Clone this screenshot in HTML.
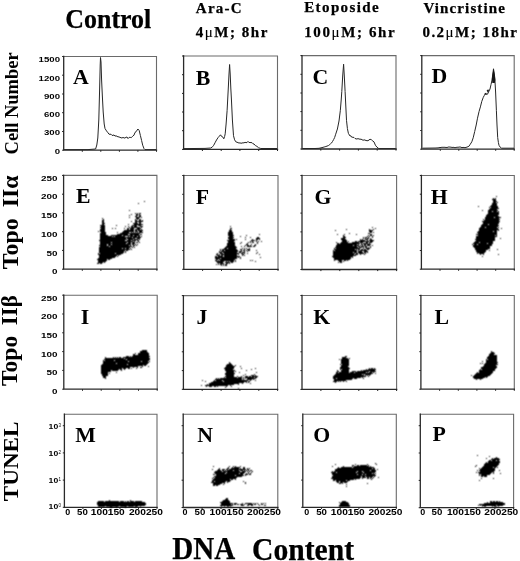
<!DOCTYPE html>
<html><head><meta charset="utf-8"><title>Figure</title>
<style>html,body{margin:0;padding:0;background:#fff;width:520px;height:561px;overflow:hidden;position:relative}
text{fill:#000}</style></head>
<body>
<svg width="520" height="561" viewBox="0 0 520 561" style="position:absolute;left:0;top:0;will-change:transform"><defs><filter id="sf" x="-5%" y="-5%" width="110%" height="110%"><feConvolveMatrix order="3" kernelMatrix="1 2 1 2 5 2 1 2 1"/></filter></defs><g fill="none" stroke-linecap="square"><path d="M63.7 56.5H156.5V150.2" stroke="#6a6a6a" stroke-width="1.1"/><path d="M63.7 56.5V150.2H156.5" stroke="#2a2a2a" stroke-width="1.3"/><path d="M183.6 56.0H277.5V149.4" stroke="#6a6a6a" stroke-width="1.1"/><path d="M183.6 56.0V149.4H277.5" stroke="#2a2a2a" stroke-width="1.3"/><path d="M302.0 55.6H396.0V149.0" stroke="#6a6a6a" stroke-width="1.1"/><path d="M302.0 55.6V149.0H396.0" stroke="#2a2a2a" stroke-width="1.3"/><path d="M421.8 55.6H514.2V149.2" stroke="#6a6a6a" stroke-width="1.1"/><path d="M421.8 55.6V149.2H514.2" stroke="#2a2a2a" stroke-width="1.3"/><path d="M63.6 175.4H156.9V269.2" stroke="#6a6a6a" stroke-width="1.1"/><path d="M63.6 175.4V269.2H156.9" stroke="#2a2a2a" stroke-width="1.3"/><path d="M183.8 175.5H278.0V269.3" stroke="#6a6a6a" stroke-width="1.1"/><path d="M183.8 175.5V269.3H278.0" stroke="#2a2a2a" stroke-width="1.3"/><path d="M302.0 175.5H396.6V269.5" stroke="#6a6a6a" stroke-width="1.1"/><path d="M302.0 175.5V269.5H396.6" stroke="#2a2a2a" stroke-width="1.3"/><path d="M421.4 175.5H514.3V269.2" stroke="#6a6a6a" stroke-width="1.1"/><path d="M421.4 175.5V269.2H514.3" stroke="#2a2a2a" stroke-width="1.3"/><path d="M63.8 295.2H157.2V389.2" stroke="#6a6a6a" stroke-width="1.1"/><path d="M63.8 295.2V389.2H157.2" stroke="#2a2a2a" stroke-width="1.3"/><path d="M183.4 295.6H277.6V389.3" stroke="#6a6a6a" stroke-width="1.1"/><path d="M183.4 295.6V389.3H277.6" stroke="#2a2a2a" stroke-width="1.3"/><path d="M302.0 295.5H396.6V389.4" stroke="#6a6a6a" stroke-width="1.1"/><path d="M302.0 295.5V389.4H396.6" stroke="#2a2a2a" stroke-width="1.3"/><path d="M420.9 295.5H514.3V389.2" stroke="#6a6a6a" stroke-width="1.1"/><path d="M420.9 295.5V389.2H514.3" stroke="#2a2a2a" stroke-width="1.3"/><path d="M64.4 414.2H157.0V507.3" stroke="#6a6a6a" stroke-width="1.1"/><path d="M64.4 414.2V507.3H157.0" stroke="#2a2a2a" stroke-width="1.3"/><path d="M183.2 414.2H277.8V507.5" stroke="#6a6a6a" stroke-width="1.1"/><path d="M183.2 414.2V507.5H277.8" stroke="#2a2a2a" stroke-width="1.3"/><path d="M302.8 414.2H396.3V507.3" stroke="#6a6a6a" stroke-width="1.1"/><path d="M302.8 414.2V507.3H396.3" stroke="#2a2a2a" stroke-width="1.3"/><path d="M420.3 414.2H513.6V507.7" stroke="#6a6a6a" stroke-width="1.1"/><path d="M420.3 414.2V507.7H513.6" stroke="#2a2a2a" stroke-width="1.3"/></g><path d="M82.3 150.2v1.6M100.8 150.2v1.6M119.4 150.2v1.6M137.9 150.2v1.6M156.5 150.2v1.6M63.7 150.2h-1.6M63.7 131.5h-1.6M63.7 112.7h-1.6M63.7 94.0h-1.6M63.7 75.2h-1.6M63.7 56.5h-1.6M202.4 149.4v1.6M221.2 149.4v1.6M239.9 149.4v1.6M258.7 149.4v1.6M277.5 149.4v1.6M183.6 149.4h-1.6M183.6 130.7h-1.6M183.6 112.0h-1.6M183.6 93.4h-1.6M183.6 74.7h-1.6M183.6 56.0h-1.6M320.8 149.0v1.6M339.6 149.0v1.6M358.4 149.0v1.6M377.2 149.0v1.6M396.0 149.0v1.6M302.0 149.0h-1.6M302.0 130.3h-1.6M302.0 111.6h-1.6M302.0 93.0h-1.6M302.0 74.3h-1.6M302.0 55.6h-1.6M440.3 149.2v1.6M458.8 149.2v1.6M477.2 149.2v1.6M495.7 149.2v1.6M514.2 149.2v1.6M421.8 149.2h-1.6M421.8 130.5h-1.6M421.8 111.8h-1.6M421.8 93.0h-1.6M421.8 74.3h-1.6M421.8 55.6h-1.6M82.3 269.2v1.6M100.9 269.2v1.6M119.6 269.2v1.6M138.2 269.2v1.6M156.9 269.2v1.6M63.6 269.2h-1.6M63.6 250.4h-1.6M63.6 231.7h-1.6M63.6 212.9h-1.6M63.6 194.2h-1.6M63.6 175.4h-1.6M202.6 269.3v1.6M221.5 269.3v1.6M240.3 269.3v1.6M259.2 269.3v1.6M278.0 269.3v1.6M183.8 269.3h-1.6M183.8 250.5h-1.6M183.8 231.8h-1.6M183.8 213.0h-1.6M183.8 194.3h-1.6M183.8 175.5h-1.6M320.9 269.5v1.6M339.8 269.5v1.6M358.8 269.5v1.6M377.7 269.5v1.6M396.6 269.5v1.6M302.0 269.5h-1.6M302.0 250.7h-1.6M302.0 231.9h-1.6M302.0 213.1h-1.6M302.0 194.3h-1.6M302.0 175.5h-1.6M440.0 269.2v1.6M458.6 269.2v1.6M477.1 269.2v1.6M495.7 269.2v1.6M514.3 269.2v1.6M421.4 269.2h-1.6M421.4 250.5h-1.6M421.4 231.7h-1.6M421.4 213.0h-1.6M421.4 194.2h-1.6M421.4 175.5h-1.6M82.5 389.2v1.6M101.2 389.2v1.6M119.8 389.2v1.6M138.5 389.2v1.6M157.2 389.2v1.6M63.8 389.2h-1.6M63.8 370.4h-1.6M63.8 351.6h-1.6M63.8 332.8h-1.6M63.8 314.0h-1.6M63.8 295.2h-1.6M202.2 389.3v1.6M221.1 389.3v1.6M239.9 389.3v1.6M258.8 389.3v1.6M277.6 389.3v1.6M183.4 389.3h-1.6M183.4 370.6h-1.6M183.4 351.8h-1.6M183.4 333.1h-1.6M183.4 314.3h-1.6M183.4 295.6h-1.6M320.9 389.4v1.6M339.8 389.4v1.6M358.8 389.4v1.6M377.7 389.4v1.6M396.6 389.4v1.6M302.0 389.4h-1.6M302.0 370.6h-1.6M302.0 351.8h-1.6M302.0 333.1h-1.6M302.0 314.3h-1.6M302.0 295.5h-1.6M439.6 389.2v1.6M458.3 389.2v1.6M476.9 389.2v1.6M495.6 389.2v1.6M514.3 389.2v1.6M420.9 389.2h-1.6M420.9 370.5h-1.6M420.9 351.7h-1.6M420.9 333.0h-1.6M420.9 314.2h-1.6M420.9 295.5h-1.6M82.9 507.3v1.6M101.4 507.3v1.6M120.0 507.3v1.6M138.5 507.3v1.6M157.0 507.3v1.6M64.4 507.3h-1.6M64.4 480.1h-1.6M64.4 452.9h-1.6M64.4 425.7h-1.6M202.1 507.5v1.6M221.0 507.5v1.6M240.0 507.5v1.6M258.9 507.5v1.6M277.8 507.5v1.6M183.2 507.5h-1.6M183.2 480.2h-1.6M183.2 453.0h-1.6M183.2 425.7h-1.6M321.5 507.3v1.6M340.2 507.3v1.6M358.9 507.3v1.6M377.6 507.3v1.6M396.3 507.3v1.6M302.8 507.3h-1.6M302.8 480.1h-1.6M302.8 452.9h-1.6M302.8 425.7h-1.6M439.0 507.7v1.6M457.6 507.7v1.6M476.3 507.7v1.6M494.9 507.7v1.6M513.6 507.7v1.6M420.3 507.7h-1.6M420.3 480.4h-1.6M420.3 453.0h-1.6M420.3 425.7h-1.6" stroke="#222" stroke-width="1" fill="none"/><path d="M64.0 149.6 L88.0 149.6 L95.6 149.0 L96.8 145.0 L97.8 138.0 L98.8 120.0 L99.6 90.0 L100.2 65.0 L100.5 57.5 L101.0 62.0 L101.6 80.0 L102.3 95.0 L103.2 112.0 L104.2 124.0 L105.0 128.5 L106.5 130.9 L108.0 132.8 L109.0 134.2 L110.0 134.3 L111.0 134.2 L112.0 135.4 L113.0 135.4 L114.0 134.9 L115.0 136.2 L116.0 135.7 L117.0 136.4 L118.0 136.8 L119.0 136.9 L120.0 137.4 L121.0 137.7 L122.0 138.1 L123.0 137.3 L124.0 138.0 L125.0 138.0 L126.0 137.3 L127.0 137.0 L128.0 138.6 L129.1 137.4 L130.2 137.3 L131.1 137.8 L132.0 136.9 L133.0 135.8 L134.0 135.2 L135.0 132.4 L136.0 131.8 L137.9 129.0 L139.2 130.5 L140.4 135.5 L141.6 140.5 L142.7 145.2 L144.0 148.6 L145.0 149.6 L156.0 149.6" fill="none" stroke="#262626" stroke-width="1" stroke-linejoin="round"/><path d="M184.0 148.6 L205.0 148.4 L210.8 148.0 L212.5 146.8 L213.7 145.3 L215.0 142.8 L216.5 140.0 L218.0 137.7 L219.4 136.1 L220.5 134.8 L221.3 136.2 L222.4 136.6 L223.8 138.8 L224.6 136.5 L225.2 133.8 L226.1 124.0 L227.1 110.7 L228.2 90.0 L229.0 74.0 L229.6 64.5 L230.2 74.0 L230.8 88.0 L231.5 101.0 L232.4 120.0 L233.5 135.7 L234.6 139.8 L235.8 141.8 L238.0 142.6 L239.0 143.1 L240.0 142.8 L241.0 143.3 L242.0 143.0 L243.0 142.8 L244.0 142.9 L245.0 142.3 L246.0 142.6 L247.0 142.6 L248.0 141.4 L249.0 142.6 L250.0 142.4 L251.0 142.7 L252.0 142.6 L253.0 143.8 L254.0 144.0 L255.5 145.7 L256.9 146.3 L258.5 147.7 L260.8 148.5 L277.0 148.5" fill="none" stroke="#262626" stroke-width="1" stroke-linejoin="round"/><path d="M302.5 148.5 L315.0 148.5 L319.0 148.3 L322.0 147.6 L324.9 146.8 L325.9 146.5 L327.0 146.1 L328.4 145.6 L329.7 144.7 L330.6 143.6 L331.5 143.0 L332.6 141.4 L333.6 139.6 L334.6 137.6 L335.5 134.8 L337.4 129.0 L339.0 121.0 L340.3 110.7 L341.2 100.0 L341.8 91.5 L342.7 76.0 L343.6 64.2 L344.3 76.0 L345.1 91.5 L345.8 106.0 L346.5 120.3 L347.4 128.5 L348.4 133.4 L350.0 136.0 L350.9 135.8 L351.8 137.3 L352.9 137.2 L354.0 137.5 L355.0 138.5 L356.0 138.8 L357.0 139.1 L358.0 138.5 L359.0 139.1 L360.0 139.1 L361.0 139.3 L362.0 139.5 L363.0 140.4 L364.0 139.8 L365.0 140.1 L366.0 140.5 L367.0 140.7 L368.0 140.7 L369.0 140.0 L370.0 139.2 L371.5 139.8 L372.8 141.0 L374.0 141.9 L375.4 145.2 L376.8 147.0 L378.8 148.6 L395.5 148.6" fill="none" stroke="#262626" stroke-width="1" stroke-linejoin="round"/><path d="M422.5 148.2 L436.0 148.0 L437.0 147.9 L438.0 147.9 L439.0 147.7 L440.0 147.5 L441.0 147.5 L442.0 147.2 L443.0 147.4 L444.0 147.2 L445.0 147.4 L446.0 147.4 L447.0 147.5 L448.0 147.2 L449.0 146.9 L450.0 147.2 L451.0 147.1 L452.0 147.5 L453.0 147.3 L454.0 147.4 L455.0 147.8 L456.0 147.4 L457.0 147.3 L458.0 147.2 L459.0 147.2 L460.0 146.9 L461.0 147.3 L462.0 147.6 L463.0 147.4 L464.0 147.5 L465.0 147.7 L466.0 147.4 L467.0 147.1 L468.9 146.3 L470.3 144.2 L471.8 141.8 L473.2 137.8 L474.7 131.5 L476.2 125.0 L477.5 118.2 L479.0 111.7 L480.4 106.9 L481.8 101.3 L483.3 97.3 L484.4 95.3 L485.6 93.0 L486.6 94.5 L487.5 94.2 L488.7 91.7 L490.0 89.0 L491.0 84.6 L492.0 80.0 L492.8 74.0 L493.5 68.8 L494.3 74.0 L494.8 78.0 L495.6 92.0 L496.4 110.7 L497.0 125.0 L497.7 137.6 L498.4 142.5 L499.0 145.3 L500.2 147.2 L501.6 148.2 L514.0 148.2" fill="none" stroke="#262626" stroke-width="1" stroke-linejoin="round"/><path d="M493.5 68.6 L494.6 74 L495.3 80 L494.8 83 L492.3 83 L491.9 79 L492.6 74Z" fill="#151515"/><path d="M486.6 90.5l1.6 -1.2l1 1.6l-1.4 1.6zM484.6 93.6l1.4 -0.8l0.8 1.5l-1.4 0.8z" fill="#222"/><path filter="url(#sf)" fill="#000" d="M496 196h1v1h-1zM493 198h1v1h-1zM495 198h1v1h-1zM492 199h4v1h-4zM493 200h3v1h-3zM144 201h1v1h-1zM493 201h4v1h-4zM493 202h3v1h-3zM497 202h1v1h-1zM138 203h1v1h-1zM492 203h5v1h-5zM492 204h5v1h-5zM491 205h6v1h-6zM478 206h1v1h-1zM490 206h8v1h-8zM489 207h1v1h-1zM491 207h7v1h-7zM490 208h9v1h-9zM489 209h8v1h-8zM129 210h1v1h-1zM482 210h1v1h-1zM488 210h10v1h-10zM488 211h4v1h-4zM493 211h4v1h-4zM498 211h1v1h-1zM488 212h11v1h-11zM135 213h1v1h-1zM137 213h1v1h-1zM139 213h2v1h-2zM488 213h11v1h-11zM131 214h1v1h-1zM136 214h2v1h-2zM139 214h1v1h-1zM487 214h12v1h-12zM129 215h1v1h-1zM136 215h2v1h-2zM139 215h2v1h-2zM486 215h12v1h-12zM135 216h2v1h-2zM139 216h2v1h-2zM486 216h13v1h-13zM129 217h1v1h-1zM136 217h4v1h-4zM141 217h1v1h-1zM485 217h9v1h-9zM495 217h6v1h-6zM102 218h1v1h-1zM136 218h3v1h-3zM485 218h14v1h-14zM103 219h1v1h-1zM135 219h1v1h-1zM137 219h1v1h-1zM139 219h2v1h-2zM483 219h1v1h-1zM485 219h15v1h-15zM102 220h2v1h-2zM135 220h2v1h-2zM139 220h2v1h-2zM142 220h1v1h-1zM484 220h15v1h-15zM102 221h2v1h-2zM131 221h1v1h-1zM135 221h8v1h-8zM482 221h18v1h-18zM102 222h2v1h-2zM135 222h2v1h-2zM139 222h2v1h-2zM483 222h16v1h-16zM102 223h3v1h-3zM133 223h5v1h-5zM139 223h2v1h-2zM483 223h16v1h-16zM102 224h2v1h-2zM128 224h1v1h-1zM134 224h9v1h-9zM482 224h6v1h-6zM489 224h9v1h-9zM100 225h5v1h-5zM116 225h1v1h-1zM132 225h5v1h-5zM138 225h3v1h-3zM481 225h18v1h-18zM101 226h4v1h-4zM125 226h1v1h-1zM128 226h1v1h-1zM131 226h2v1h-2zM134 226h3v1h-3zM140 226h3v1h-3zM230 226h1v1h-1zM481 226h17v1h-17zM100 227h5v1h-5zM129 227h1v1h-1zM131 227h9v1h-9zM141 227h1v1h-1zM372 227h1v1h-1zM480 227h5v1h-5zM486 227h11v1h-11zM498 227h1v1h-1zM101 228h4v1h-4zM112 228h1v1h-1zM115 228h1v1h-1zM124 228h1v1h-1zM127 228h2v1h-2zM130 228h4v1h-4zM137 228h4v1h-4zM230 228h2v1h-2zM375 228h1v1h-1zM479 228h19v1h-19zM501 228h1v1h-1zM100 229h5v1h-5zM127 229h2v1h-2zM130 229h4v1h-4zM135 229h5v1h-5zM141 229h1v1h-1zM230 229h1v1h-1zM346 229h1v1h-1zM369 229h1v1h-1zM373 229h1v1h-1zM479 229h20v1h-20zM100 230h5v1h-5zM124 230h10v1h-10zM135 230h2v1h-2zM138 230h5v1h-5zM229 230h3v1h-3zM335 230h1v1h-1zM369 230h4v1h-4zM479 230h18v1h-18zM498 230h1v1h-1zM98 231h1v1h-1zM100 231h5v1h-5zM123 231h11v1h-11zM135 231h3v1h-3zM139 231h3v1h-3zM229 231h3v1h-3zM369 231h3v1h-3zM478 231h15v1h-15zM494 231h3v1h-3zM101 232h5v1h-5zM117 232h1v1h-1zM122 232h7v1h-7zM131 232h1v1h-1zM133 232h1v1h-1zM135 232h1v1h-1zM137 232h1v1h-1zM139 232h4v1h-4zM228 232h5v1h-5zM370 232h2v1h-2zM373 232h1v1h-1zM477 232h20v1h-20zM100 233h6v1h-6zM120 233h20v1h-20zM228 233h5v1h-5zM349 233h1v1h-1zM368 233h2v1h-2zM478 233h19v1h-19zM100 234h6v1h-6zM117 234h11v1h-11zM130 234h9v1h-9zM140 234h2v1h-2zM228 234h5v1h-5zM259 234h1v1h-1zM337 234h1v1h-1zM344 234h1v1h-1zM356 234h1v1h-1zM370 234h2v1h-2zM476 234h21v1h-21zM100 235h8v1h-8zM111 235h11v1h-11zM123 235h10v1h-10zM134 235h6v1h-6zM228 235h6v1h-6zM246 235h1v1h-1zM343 235h1v1h-1zM368 235h1v1h-1zM370 235h2v1h-2zM373 235h1v1h-1zM478 235h17v1h-17zM496 235h1v1h-1zM100 236h12v1h-12zM113 236h1v1h-1zM115 236h10v1h-10zM128 236h1v1h-1zM130 236h7v1h-7zM138 236h2v1h-2zM141 236h1v1h-1zM229 236h4v1h-4zM240 236h1v1h-1zM343 236h2v1h-2zM367 236h1v1h-1zM369 236h1v1h-1zM372 236h1v1h-1zM476 236h21v1h-21zM100 237h32v1h-32zM133 237h8v1h-8zM228 237h6v1h-6zM245 237h1v1h-1zM250 237h1v1h-1zM257 237h2v1h-2zM343 237h3v1h-3zM363 237h1v1h-1zM365 237h2v1h-2zM368 237h1v1h-1zM372 237h1v1h-1zM476 237h19v1h-19zM100 238h26v1h-26zM127 238h8v1h-8zM137 238h3v1h-3zM228 238h5v1h-5zM256 238h4v1h-4zM341 238h4v1h-4zM363 238h1v1h-1zM365 238h1v1h-1zM367 238h2v1h-2zM370 238h1v1h-1zM476 238h19v1h-19zM500 238h1v1h-1zM100 239h27v1h-27zM128 239h5v1h-5zM134 239h4v1h-4zM139 239h1v1h-1zM229 239h6v1h-6zM236 239h1v1h-1zM245 239h1v1h-1zM252 239h1v1h-1zM256 239h2v1h-2zM259 239h1v1h-1zM341 239h5v1h-5zM360 239h1v1h-1zM362 239h1v1h-1zM365 239h3v1h-3zM370 239h2v1h-2zM475 239h20v1h-20zM99 240h26v1h-26zM127 240h4v1h-4zM132 240h4v1h-4zM137 240h2v1h-2zM227 240h8v1h-8zM251 240h4v1h-4zM256 240h1v1h-1zM342 240h5v1h-5zM360 240h5v1h-5zM367 240h1v1h-1zM369 240h5v1h-5zM476 240h19v1h-19zM100 241h33v1h-33zM134 241h1v1h-1zM138 241h1v1h-1zM228 241h6v1h-6zM250 241h1v1h-1zM252 241h1v1h-1zM256 241h1v1h-1zM258 241h1v1h-1zM261 241h1v1h-1zM342 241h5v1h-5zM348 241h1v1h-1zM355 241h2v1h-2zM358 241h11v1h-11zM370 241h3v1h-3zM475 241h18v1h-18zM100 242h11v1h-11zM112 242h15v1h-15zM128 242h3v1h-3zM132 242h3v1h-3zM136 242h2v1h-2zM139 242h1v1h-1zM228 242h7v1h-7zM241 242h1v1h-1zM248 242h1v1h-1zM250 242h1v1h-1zM252 242h2v1h-2zM257 242h1v1h-1zM336 242h1v1h-1zM341 242h7v1h-7zM352 242h7v1h-7zM360 242h3v1h-3zM366 242h2v1h-2zM369 242h3v1h-3zM474 242h5v1h-5zM480 242h13v1h-13zM100 243h26v1h-26zM127 243h4v1h-4zM132 243h3v1h-3zM227 243h8v1h-8zM240 243h1v1h-1zM247 243h1v1h-1zM257 243h1v1h-1zM337 243h2v1h-2zM340 243h20v1h-20zM361 243h1v1h-1zM363 243h5v1h-5zM369 243h1v1h-1zM473 243h14v1h-14zM488 243h5v1h-5zM100 244h7v1h-7zM108 244h3v1h-3zM112 244h19v1h-19zM132 244h2v1h-2zM135 244h1v1h-1zM137 244h1v1h-1zM227 244h8v1h-8zM246 244h2v1h-2zM251 244h1v1h-1zM255 244h1v1h-1zM337 244h20v1h-20zM358 244h1v1h-1zM361 244h2v1h-2zM364 244h2v1h-2zM367 244h4v1h-4zM472 244h1v1h-1zM474 244h3v1h-3zM478 244h14v1h-14zM99 245h8v1h-8zM108 245h21v1h-21zM130 245h1v1h-1zM133 245h2v1h-2zM136 245h1v1h-1zM227 245h8v1h-8zM245 245h1v1h-1zM247 245h2v1h-2zM250 245h1v1h-1zM254 245h2v1h-2zM336 245h17v1h-17zM354 245h5v1h-5zM360 245h1v1h-1zM362 245h1v1h-1zM364 245h2v1h-2zM367 245h3v1h-3zM372 245h1v1h-1zM473 245h19v1h-19zM100 246h9v1h-9zM110 246h22v1h-22zM133 246h1v1h-1zM226 246h10v1h-10zM241 246h1v1h-1zM244 246h1v1h-1zM247 246h5v1h-5zM253 246h2v1h-2zM336 246h21v1h-21zM358 246h2v1h-2zM361 246h3v1h-3zM365 246h2v1h-2zM370 246h1v1h-1zM473 246h17v1h-17zM99 247h31v1h-31zM132 247h1v1h-1zM134 247h1v1h-1zM225 247h12v1h-12zM335 247h23v1h-23zM359 247h3v1h-3zM363 247h1v1h-1zM365 247h2v1h-2zM368 247h1v1h-1zM370 247h1v1h-1zM474 247h16v1h-16zM99 248h23v1h-23zM123 248h2v1h-2zM126 248h3v1h-3zM130 248h1v1h-1zM224 248h3v1h-3zM228 248h8v1h-8zM242 248h1v1h-1zM244 248h1v1h-1zM246 248h1v1h-1zM249 248h1v1h-1zM334 248h1v1h-1zM336 248h24v1h-24zM363 248h1v1h-1zM366 248h4v1h-4zM475 248h15v1h-15zM99 249h31v1h-31zM131 249h1v1h-1zM220 249h1v1h-1zM222 249h15v1h-15zM240 249h2v1h-2zM244 249h1v1h-1zM247 249h3v1h-3zM334 249h21v1h-21zM356 249h1v1h-1zM358 249h2v1h-2zM361 249h2v1h-2zM364 249h2v1h-2zM367 249h2v1h-2zM475 249h13v1h-13zM497 249h1v1h-1zM99 250h26v1h-26zM126 250h2v1h-2zM220 250h1v1h-1zM222 250h2v1h-2zM225 250h13v1h-13zM241 250h1v1h-1zM243 250h2v1h-2zM246 250h1v1h-1zM248 250h2v1h-2zM256 250h1v1h-1zM333 250h1v1h-1zM335 250h22v1h-22zM358 250h1v1h-1zM360 250h7v1h-7zM476 250h10v1h-10zM489 250h1v1h-1zM99 251h25v1h-25zM125 251h1v1h-1zM219 251h1v1h-1zM221 251h17v1h-17zM239 251h3v1h-3zM244 251h1v1h-1zM247 251h1v1h-1zM333 251h24v1h-24zM358 251h4v1h-4zM364 251h4v1h-4zM476 251h10v1h-10zM99 252h25v1h-25zM125 252h1v1h-1zM219 252h3v1h-3zM223 252h14v1h-14zM239 252h2v1h-2zM242 252h3v1h-3zM257 252h1v1h-1zM333 252h20v1h-20zM354 252h3v1h-3zM358 252h5v1h-5zM364 252h2v1h-2zM367 252h1v1h-1zM477 252h8v1h-8zM98 253h1v1h-1zM100 253h15v1h-15zM116 253h7v1h-7zM217 253h1v1h-1zM220 253h3v1h-3zM224 253h15v1h-15zM241 253h2v1h-2zM244 253h1v1h-1zM247 253h1v1h-1zM256 253h1v1h-1zM333 253h22v1h-22zM356 253h2v1h-2zM359 253h5v1h-5zM365 253h1v1h-1zM477 253h1v1h-1zM479 253h5v1h-5zM98 254h23v1h-23zM216 254h2v1h-2zM219 254h1v1h-1zM221 254h16v1h-16zM238 254h1v1h-1zM242 254h2v1h-2zM259 254h1v1h-1zM333 254h21v1h-21zM355 254h3v1h-3zM360 254h1v1h-1zM364 254h1v1h-1zM480 254h1v1h-1zM483 254h1v1h-1zM498 254h1v1h-1zM99 255h18v1h-18zM118 255h1v1h-1zM217 255h3v1h-3zM221 255h2v1h-2zM224 255h13v1h-13zM242 255h1v1h-1zM244 255h1v1h-1zM333 255h23v1h-23zM99 256h17v1h-17zM117 256h1v1h-1zM215 256h2v1h-2zM218 256h5v1h-5zM224 256h16v1h-16zM332 256h21v1h-21zM482 256h1v1h-1zM99 257h16v1h-16zM215 257h22v1h-22zM238 257h1v1h-1zM240 257h1v1h-1zM260 257h1v1h-1zM333 257h18v1h-18zM352 257h1v1h-1zM98 258h14v1h-14zM215 258h5v1h-5zM221 258h16v1h-16zM240 258h1v1h-1zM334 258h17v1h-17zM97 259h10v1h-10zM108 259h2v1h-2zM216 259h2v1h-2zM219 259h16v1h-16zM334 259h16v1h-16zM98 260h9v1h-9zM215 260h2v1h-2zM218 260h1v1h-1zM220 260h14v1h-14zM235 260h1v1h-1zM250 260h1v1h-1zM252 260h1v1h-1zM334 260h1v1h-1zM338 260h4v1h-4zM344 260h2v1h-2zM347 260h1v1h-1zM98 261h8v1h-8zM216 261h8v1h-8zM226 261h1v1h-1zM228 261h1v1h-1zM230 261h4v1h-4zM235 261h1v1h-1zM255 261h1v1h-1zM339 261h3v1h-3zM343 261h1v1h-1zM98 262h5v1h-5zM104 262h1v1h-1zM217 262h6v1h-6zM225 262h5v1h-5zM231 262h2v1h-2zM338 262h1v1h-1zM340 262h2v1h-2zM97 263h2v1h-2zM100 263h2v1h-2zM218 263h1v1h-1zM220 263h4v1h-4zM226 263h2v1h-2zM229 263h1v1h-1zM216 264h1v1h-1zM218 264h1v1h-1zM220 264h2v1h-2zM223 264h1v1h-1zM225 264h2v1h-2zM221 265h1v1h-1zM223 265h1v1h-1zM225 265h2v1h-2zM142 350h5v1h-5zM140 351h7v1h-7zM491 351h1v1h-1zM140 352h8v1h-8zM491 352h3v1h-3zM135 353h1v1h-1zM138 353h11v1h-11zM490 353h5v1h-5zM133 354h2v1h-2zM138 354h11v1h-11zM489 354h5v1h-5zM133 355h16v1h-16zM489 355h8v1h-8zM126 356h3v1h-3zM130 356h1v1h-1zM132 356h18v1h-18zM345 356h2v1h-2zM488 356h9v1h-9zM105 357h1v1h-1zM113 357h1v1h-1zM115 357h1v1h-1zM117 357h1v1h-1zM119 357h2v1h-2zM123 357h26v1h-26zM342 357h4v1h-4zM487 357h10v1h-10zM105 358h19v1h-19zM125 358h25v1h-25zM342 358h6v1h-6zM349 358h1v1h-1zM487 358h10v1h-10zM104 359h22v1h-22zM127 359h23v1h-23zM339 359h1v1h-1zM341 359h8v1h-8zM486 359h1v1h-1zM488 359h9v1h-9zM103 360h1v1h-1zM105 360h9v1h-9zM115 360h34v1h-34zM341 360h8v1h-8zM486 360h11v1h-11zM103 361h25v1h-25zM129 361h12v1h-12zM142 361h6v1h-6zM149 361h1v1h-1zM341 361h8v1h-8zM482 361h1v1h-1zM486 361h11v1h-11zM103 362h46v1h-46zM229 362h1v1h-1zM341 362h8v1h-8zM486 362h12v1h-12zM103 363h13v1h-13zM117 363h31v1h-31zM229 363h2v1h-2zM341 363h8v1h-8zM480 363h1v1h-1zM482 363h1v1h-1zM485 363h12v1h-12zM102 364h25v1h-25zM128 364h19v1h-19zM227 364h5v1h-5zM340 364h1v1h-1zM342 364h7v1h-7zM484 364h14v1h-14zM101 365h42v1h-42zM144 365h2v1h-2zM226 365h7v1h-7zM235 365h1v1h-1zM341 365h8v1h-8zM484 365h12v1h-12zM101 366h37v1h-37zM142 366h1v1h-1zM148 366h1v1h-1zM226 366h9v1h-9zM240 366h1v1h-1zM341 366h7v1h-7zM483 366h14v1h-14zM101 367h29v1h-29zM133 367h1v1h-1zM137 367h1v1h-1zM140 367h2v1h-2zM225 367h9v1h-9zM340 367h9v1h-9zM481 367h16v1h-16zM101 368h21v1h-21zM123 368h3v1h-3zM128 368h2v1h-2zM131 368h1v1h-1zM136 368h1v1h-1zM224 368h10v1h-10zM241 368h1v1h-1zM255 368h1v1h-1zM340 368h10v1h-10zM369 368h1v1h-1zM371 368h2v1h-2zM374 368h1v1h-1zM481 368h15v1h-15zM101 369h18v1h-18zM120 369h2v1h-2zM124 369h1v1h-1zM225 369h8v1h-8zM251 369h1v1h-1zM340 369h1v1h-1zM342 369h7v1h-7zM366 369h1v1h-1zM368 369h8v1h-8zM480 369h1v1h-1zM482 369h13v1h-13zM101 370h10v1h-10zM112 370h6v1h-6zM121 370h1v1h-1zM225 370h10v1h-10zM246 370h1v1h-1zM337 370h1v1h-1zM341 370h8v1h-8zM361 370h1v1h-1zM363 370h12v1h-12zM479 370h16v1h-16zM101 371h10v1h-10zM226 371h8v1h-8zM235 371h1v1h-1zM337 371h2v1h-2zM341 371h8v1h-8zM352 371h4v1h-4zM357 371h12v1h-12zM370 371h6v1h-6zM479 371h14v1h-14zM101 372h7v1h-7zM116 372h1v1h-1zM226 372h8v1h-8zM239 372h1v1h-1zM256 372h1v1h-1zM336 372h2v1h-2zM339 372h10v1h-10zM350 372h4v1h-4zM355 372h11v1h-11zM367 372h1v1h-1zM369 372h3v1h-3zM373 372h1v1h-1zM477 372h1v1h-1zM479 372h14v1h-14zM101 373h7v1h-7zM109 373h1v1h-1zM225 373h10v1h-10zM336 373h37v1h-37zM375 373h1v1h-1zM476 373h16v1h-16zM102 374h6v1h-6zM225 374h9v1h-9zM245 374h1v1h-1zM254 374h1v1h-1zM335 374h27v1h-27zM363 374h1v1h-1zM365 374h6v1h-6zM475 374h16v1h-16zM102 375h6v1h-6zM226 375h8v1h-8zM243 375h1v1h-1zM251 375h3v1h-3zM255 375h1v1h-1zM334 375h30v1h-30zM365 375h1v1h-1zM367 375h1v1h-1zM369 375h1v1h-1zM471 375h1v1h-1zM474 375h16v1h-16zM103 376h3v1h-3zM225 376h9v1h-9zM237 376h1v1h-1zM241 376h1v1h-1zM245 376h3v1h-3zM249 376h2v1h-2zM252 376h6v1h-6zM333 376h33v1h-33zM368 376h1v1h-1zM473 376h15v1h-15zM103 377h3v1h-3zM224 377h1v1h-1zM226 377h11v1h-11zM238 377h4v1h-4zM243 377h1v1h-1zM245 377h9v1h-9zM255 377h2v1h-2zM333 377h28v1h-28zM362 377h1v1h-1zM473 377h12v1h-12zM486 377h1v1h-1zM105 378h1v1h-1zM216 378h1v1h-1zM218 378h1v1h-1zM220 378h22v1h-22zM243 378h1v1h-1zM245 378h1v1h-1zM247 378h9v1h-9zM333 378h3v1h-3zM337 378h16v1h-16zM354 378h3v1h-3zM363 378h1v1h-1zM474 378h9v1h-9zM215 379h27v1h-27zM243 379h1v1h-1zM247 379h5v1h-5zM253 379h1v1h-1zM334 379h18v1h-18zM476 379h1v1h-1zM480 379h1v1h-1zM202 380h1v1h-1zM214 380h1v1h-1zM216 380h6v1h-6zM223 380h25v1h-25zM250 380h1v1h-1zM255 380h1v1h-1zM334 380h12v1h-12zM205 381h1v1h-1zM213 381h10v1h-10zM224 381h23v1h-23zM248 381h2v1h-2zM333 381h4v1h-4zM338 381h1v1h-1zM340 381h1v1h-1zM343 381h1v1h-1zM346 381h1v1h-1zM211 382h33v1h-33zM246 382h1v1h-1zM248 382h1v1h-1zM335 382h1v1h-1zM209 383h30v1h-30zM242 383h1v1h-1zM250 383h1v1h-1zM207 384h1v1h-1zM209 384h25v1h-25zM238 384h1v1h-1zM201 385h1v1h-1zM205 385h23v1h-23zM230 385h1v1h-1zM206 386h1v1h-1zM209 386h3v1h-3zM214 386h2v1h-2zM217 386h1v1h-1zM226 386h1v1h-1zM231 386h1v1h-1zM225 387h1v1h-1zM238 388h1v1h-1zM477 455h1v1h-1zM489 456h1v1h-1zM496 457h1v1h-1zM486 458h1v1h-1zM492 458h1v1h-1zM494 458h5v1h-5zM491 459h9v1h-9zM489 460h2v1h-2zM492 460h4v1h-4zM497 460h2v1h-2zM488 461h12v1h-12zM486 462h1v1h-1zM488 462h12v1h-12zM375 463h1v1h-1zM485 463h14v1h-14zM335 464h1v1h-1zM355 464h1v1h-1zM367 464h1v1h-1zM376 464h1v1h-1zM484 464h15v1h-15zM352 465h2v1h-2zM357 465h2v1h-2zM360 465h7v1h-7zM368 465h1v1h-1zM476 465h1v1h-1zM484 465h14v1h-14zM213 466h1v1h-1zM229 466h1v1h-1zM233 466h1v1h-1zM235 466h1v1h-1zM240 466h1v1h-1zM332 466h1v1h-1zM343 466h1v1h-1zM352 466h1v1h-1zM354 466h15v1h-15zM370 466h1v1h-1zM475 466h1v1h-1zM483 466h14v1h-14zM228 467h1v1h-1zM232 467h1v1h-1zM234 467h6v1h-6zM243 467h2v1h-2zM338 467h1v1h-1zM341 467h11v1h-11zM353 467h21v1h-21zM482 467h11v1h-11zM494 467h2v1h-2zM497 467h1v1h-1zM219 468h1v1h-1zM227 468h2v1h-2zM231 468h8v1h-8zM240 468h1v1h-1zM243 468h2v1h-2zM247 468h1v1h-1zM249 468h1v1h-1zM337 468h35v1h-35zM373 468h2v1h-2zM479 468h1v1h-1zM481 468h14v1h-14zM212 469h1v1h-1zM218 469h2v1h-2zM222 469h3v1h-3zM226 469h2v1h-2zM229 469h17v1h-17zM247 469h2v1h-2zM335 469h40v1h-40zM377 469h1v1h-1zM480 469h15v1h-15zM217 470h4v1h-4zM222 470h2v1h-2zM225 470h1v1h-1zM227 470h6v1h-6zM234 470h5v1h-5zM240 470h3v1h-3zM244 470h1v1h-1zM246 470h1v1h-1zM248 470h1v1h-1zM250 470h2v1h-2zM335 470h35v1h-35zM371 470h5v1h-5zM477 470h1v1h-1zM479 470h16v1h-16zM499 470h1v1h-1zM215 471h7v1h-7zM223 471h17v1h-17zM242 471h4v1h-4zM247 471h1v1h-1zM249 471h1v1h-1zM252 471h1v1h-1zM332 471h1v1h-1zM334 471h23v1h-23zM358 471h4v1h-4zM363 471h13v1h-13zM480 471h14v1h-14zM214 472h12v1h-12zM227 472h18v1h-18zM248 472h1v1h-1zM251 472h1v1h-1zM331 472h5v1h-5zM337 472h19v1h-19zM357 472h6v1h-6zM364 472h11v1h-11zM476 472h1v1h-1zM478 472h14v1h-14zM493 472h1v1h-1zM215 473h10v1h-10zM226 473h13v1h-13zM240 473h4v1h-4zM246 473h1v1h-1zM248 473h1v1h-1zM250 473h1v1h-1zM332 473h40v1h-40zM373 473h1v1h-1zM375 473h1v1h-1zM479 473h12v1h-12zM493 473h1v1h-1zM500 473h1v1h-1zM213 474h2v1h-2zM216 474h27v1h-27zM245 474h3v1h-3zM249 474h2v1h-2zM332 474h25v1h-25zM358 474h4v1h-4zM363 474h2v1h-2zM366 474h9v1h-9zM479 474h1v1h-1zM481 474h9v1h-9zM216 475h19v1h-19zM236 475h8v1h-8zM245 475h1v1h-1zM333 475h43v1h-43zM479 475h1v1h-1zM481 475h6v1h-6zM214 476h28v1h-28zM332 476h29v1h-29zM362 476h3v1h-3zM366 476h7v1h-7zM374 476h1v1h-1zM481 476h2v1h-2zM484 476h3v1h-3zM213 477h1v1h-1zM215 477h22v1h-22zM332 477h29v1h-29zM362 477h4v1h-4zM367 477h2v1h-2zM370 477h2v1h-2zM373 477h1v1h-1zM378 477h1v1h-1zM212 478h1v1h-1zM214 478h22v1h-22zM331 478h29v1h-29zM362 478h1v1h-1zM367 478h2v1h-2zM370 478h1v1h-1zM372 478h1v1h-1zM481 478h1v1h-1zM493 478h1v1h-1zM213 479h17v1h-17zM231 479h2v1h-2zM235 479h1v1h-1zM333 479h21v1h-21zM355 479h1v1h-1zM371 479h1v1h-1zM212 480h19v1h-19zM333 480h2v1h-2zM336 480h10v1h-10zM347 480h3v1h-3zM479 480h1v1h-1zM212 481h2v1h-2zM215 481h11v1h-11zM227 481h3v1h-3zM243 481h1v1h-1zM336 481h3v1h-3zM340 481h8v1h-8zM211 482h14v1h-14zM227 482h1v1h-1zM245 482h1v1h-1zM337 482h2v1h-2zM340 482h3v1h-3zM344 482h3v1h-3zM213 483h9v1h-9zM224 483h1v1h-1zM245 483h1v1h-1zM339 483h2v1h-2zM342 483h1v1h-1zM367 483h1v1h-1zM213 484h7v1h-7zM223 484h1v1h-1zM346 484h1v1h-1zM213 485h2v1h-2zM216 485h2v1h-2zM346 486h1v1h-1zM226 498h2v1h-2zM225 499h3v1h-3zM109 500h1v1h-1zM130 500h1v1h-1zM223 500h6v1h-6zM98 501h6v1h-6zM105 501h14v1h-14zM120 501h4v1h-4zM125 501h1v1h-1zM127 501h2v1h-2zM130 501h4v1h-4zM135 501h7v1h-7zM222 501h8v1h-8zM342 501h4v1h-4zM490 501h2v1h-2zM493 501h2v1h-2zM496 501h2v1h-2zM499 501h1v1h-1zM97 502h48v1h-48zM220 502h10v1h-10zM339 502h1v1h-1zM341 502h7v1h-7zM487 502h1v1h-1zM490 502h13v1h-13zM97 503h49v1h-49zM221 503h12v1h-12zM234 503h3v1h-3zM242 503h1v1h-1zM245 503h7v1h-7zM253 503h1v1h-1zM255 503h1v1h-1zM257 503h1v1h-1zM261 503h1v1h-1zM263 503h1v1h-1zM265 503h1v1h-1zM340 503h9v1h-9zM484 503h21v1h-21zM97 504h49v1h-49zM221 504h10v1h-10zM232 504h1v1h-1zM234 504h2v1h-2zM237 504h2v1h-2zM240 504h3v1h-3zM244 504h1v1h-1zM248 504h5v1h-5zM254 504h2v1h-2zM258 504h1v1h-1zM261 504h2v1h-2zM340 504h9v1h-9zM479 504h26v1h-26zM98 505h47v1h-47zM220 505h13v1h-13zM241 505h3v1h-3zM247 505h2v1h-2zM251 505h2v1h-2zM259 505h1v1h-1zM264 505h2v1h-2zM339 505h11v1h-11zM478 505h1v1h-1zM480 505h1v1h-1zM482 505h14v1h-14zM497 505h6v1h-6zM98 506h7v1h-7zM106 506h13v1h-13zM120 506h7v1h-7zM128 506h6v1h-6zM135 506h3v1h-3zM140 506h1v1h-1zM221 506h1v1h-1zM224 506h1v1h-1zM227 506h2v1h-2zM230 506h1v1h-1zM339 506h11v1h-11zM482 506h1v1h-1zM484 506h2v1h-2zM492 506h1v1h-1zM494 506h3v1h-3zM498 506h1v1h-1zM110 507h2v1h-2zM116 507h1v1h-1zM125 507h1v1h-1zM135 507h1v1h-1z"/><text x="73.0" y="84.3" font-family="'Liberation Serif', serif" font-weight="bold" font-size="21.8" fill="#000">A</text><text x="195.8" y="85.4" font-family="'Liberation Serif', serif" font-weight="bold" font-size="21.8" fill="#000">B</text><text x="312.5" y="84.3" font-family="'Liberation Serif', serif" font-weight="bold" font-size="21.8" fill="#000">C</text><text x="431.5" y="83.3" font-family="'Liberation Serif', serif" font-weight="bold" font-size="21.8" fill="#000">D</text><text x="76.0" y="203.3" font-family="'Liberation Serif', serif" font-weight="bold" font-size="21.8" fill="#000">E</text><text x="195.7" y="204.2" font-family="'Liberation Serif', serif" font-weight="bold" font-size="21.8" fill="#000">F</text><text x="314.5" y="204.4" font-family="'Liberation Serif', serif" font-weight="bold" font-size="21.8" fill="#000">G</text><text x="430.8" y="204.4" font-family="'Liberation Serif', serif" font-weight="bold" font-size="21.8" fill="#000">H</text><text x="80.8" y="324.1" font-family="'Liberation Serif', serif" font-weight="bold" font-size="21.8" fill="#000">I</text><text x="196.5" y="324.4" font-family="'Liberation Serif', serif" font-weight="bold" font-size="21.8" fill="#000">J</text><text x="313.3" y="324.4" font-family="'Liberation Serif', serif" font-weight="bold" font-size="21.8" fill="#000">K</text><text x="434.5" y="324.4" font-family="'Liberation Serif', serif" font-weight="bold" font-size="21.8" fill="#000">L</text><text x="75.2" y="442.0" font-family="'Liberation Serif', serif" font-weight="bold" font-size="21.8" fill="#000">M</text><text x="197.3" y="442.4" font-family="'Liberation Serif', serif" font-weight="bold" font-size="21.8" fill="#000">N</text><text x="313.3" y="442.4" font-family="'Liberation Serif', serif" font-weight="bold" font-size="21.8" fill="#000">O</text><text x="432.4" y="440.9" font-family="'Liberation Serif', serif" font-weight="bold" font-size="21.8" fill="#000">P</text></svg>
<svg width="520" height="561" viewBox="0 0 520 561" style="position:absolute;left:0;top:0;will-change:transform"><text x="65.3" y="27.6" font-family="'Liberation Serif', serif" font-size="26.5" font-weight="bold" textLength="86" lengthAdjust="spacingAndGlyphs" text-anchor="start" stroke="#000" stroke-width="0.25">Control</text><text x="195.8" y="12.6" font-family="'Liberation Serif', serif" font-size="15" font-weight="bold" textLength="45.8" lengthAdjust="spacing" text-anchor="start" stroke="#000" stroke-width="0.25">Ara-C</text><text x="195.8" y="36.6" font-family="'Liberation Serif', serif" font-size="15" font-weight="bold" textLength="71.5" lengthAdjust="spacing" text-anchor="start" stroke="#000" stroke-width="0.25">4<tspan font-weight="normal" stroke-width="0.1">&#956;</tspan>M; 8hr</text><text x="304.2" y="12.2" font-family="'Liberation Serif', serif" font-size="15" font-weight="bold" textLength="74.5" lengthAdjust="spacing" text-anchor="start" stroke="#000" stroke-width="0.25">Etoposide</text><text x="304.2" y="36.5" font-family="'Liberation Serif', serif" font-size="15" font-weight="bold" textLength="90.5" lengthAdjust="spacing" text-anchor="start" stroke="#000" stroke-width="0.25">100<tspan font-weight="normal" stroke-width="0.1">&#956;</tspan>M; 6hr</text><text x="423.4" y="12.7" font-family="'Liberation Serif', serif" font-size="15" font-weight="bold" textLength="81.5" lengthAdjust="spacing" text-anchor="start" stroke="#000" stroke-width="0.25">Vincristine</text><text x="422.4" y="37.3" font-family="'Liberation Serif', serif" font-size="15" font-weight="bold" textLength="94.5" lengthAdjust="spacing" text-anchor="start" stroke="#000" stroke-width="0.25">0.2<tspan font-weight="normal" stroke-width="0.1">&#956;</tspan>M; 18hr</text><text x="172.3" y="559.3" font-family="'Liberation Serif', serif" font-size="30.5" font-weight="bold" textLength="63" lengthAdjust="spacingAndGlyphs" text-anchor="start" stroke="#000" stroke-width="0.25">DNA</text><text x="252.0" y="559.5" font-family="'Liberation Serif', serif" font-size="30.5" font-weight="bold" textLength="102" lengthAdjust="spacingAndGlyphs" text-anchor="start" stroke="#000" stroke-width="0.25">Content</text><text transform="translate(18.2,154.4) rotate(-90)" font-family="'Liberation Serif', serif" font-size="18.6" font-weight="bold" textLength="102" lengthAdjust="spacingAndGlyphs">Cell Number</text><text transform="translate(17.8,269.2) rotate(-90)" font-family="'Liberation Serif', serif" font-size="23" font-weight="bold" textLength="50.8" lengthAdjust="spacingAndGlyphs">Topo</text><text transform="translate(17.8,207.2) rotate(-90)" font-family="'Liberation Serif', serif" font-size="23" font-weight="bold" textLength="31.6" lengthAdjust="spacingAndGlyphs">II&#945;</text><text transform="translate(17.2,386.0) rotate(-90)" font-family="'Liberation Serif', serif" font-size="23" font-weight="bold" textLength="50.2" lengthAdjust="spacingAndGlyphs">Topo</text><text transform="translate(17.0,325.2) rotate(-90)" font-family="'Liberation Serif', serif" font-size="23" font-weight="bold" textLength="30" lengthAdjust="spacingAndGlyphs">II&#946;</text><text transform="translate(17.6,501.2) rotate(-90)" font-family="'Liberation Serif', serif" font-size="22" font-weight="bold" textLength="79.6" lengthAdjust="spacingAndGlyphs">TUNEL</text><text x="60.0" y="61.8" font-family="'Liberation Sans', sans-serif" font-size="8.1" font-weight="bold" text-anchor="end" textLength="21.4" lengthAdjust="spacingAndGlyphs" fill="#111">1500</text><text x="60.0" y="80.5" font-family="'Liberation Sans', sans-serif" font-size="8.1" font-weight="bold" text-anchor="end" textLength="21.4" lengthAdjust="spacingAndGlyphs" fill="#111">1200</text><text x="60.0" y="98.6" font-family="'Liberation Sans', sans-serif" font-size="8.1" font-weight="bold" text-anchor="end" textLength="16.049999999999997" lengthAdjust="spacingAndGlyphs" fill="#111">900</text><text x="60.0" y="117.2" font-family="'Liberation Sans', sans-serif" font-size="8.1" font-weight="bold" text-anchor="end" textLength="16.049999999999997" lengthAdjust="spacingAndGlyphs" fill="#111">600</text><text x="60.0" y="135.4" font-family="'Liberation Sans', sans-serif" font-size="8.1" font-weight="bold" text-anchor="end" textLength="16.049999999999997" lengthAdjust="spacingAndGlyphs" fill="#111">300</text><text x="60.0" y="153.8" font-family="'Liberation Sans', sans-serif" font-size="8.1" font-weight="bold" text-anchor="end" textLength="5.35" lengthAdjust="spacingAndGlyphs" fill="#111">0</text><text x="57.6" y="180.7" font-family="'Liberation Sans', sans-serif" font-size="8.1" font-weight="bold" text-anchor="end" textLength="16.5" lengthAdjust="spacingAndGlyphs" fill="#111">250</text><text x="57.6" y="199.4" font-family="'Liberation Sans', sans-serif" font-size="8.1" font-weight="bold" text-anchor="end" textLength="16.5" lengthAdjust="spacingAndGlyphs" fill="#111">200</text><text x="57.6" y="218.1" font-family="'Liberation Sans', sans-serif" font-size="8.1" font-weight="bold" text-anchor="end" textLength="16.5" lengthAdjust="spacingAndGlyphs" fill="#111">150</text><text x="57.6" y="236.8" font-family="'Liberation Sans', sans-serif" font-size="8.1" font-weight="bold" text-anchor="end" textLength="16.5" lengthAdjust="spacingAndGlyphs" fill="#111">100</text><text x="57.6" y="255.5" font-family="'Liberation Sans', sans-serif" font-size="8.1" font-weight="bold" text-anchor="end" textLength="11.0" lengthAdjust="spacingAndGlyphs" fill="#111">50</text><text x="57.6" y="274.2" font-family="'Liberation Sans', sans-serif" font-size="8.1" font-weight="bold" text-anchor="end" textLength="5.5" lengthAdjust="spacingAndGlyphs" fill="#111">0</text><text x="57.6" y="300.5" font-family="'Liberation Sans', sans-serif" font-size="8.1" font-weight="bold" text-anchor="end" textLength="16.5" lengthAdjust="spacingAndGlyphs" fill="#111">250</text><text x="57.6" y="319.2" font-family="'Liberation Sans', sans-serif" font-size="8.1" font-weight="bold" text-anchor="end" textLength="16.5" lengthAdjust="spacingAndGlyphs" fill="#111">200</text><text x="57.6" y="337.9" font-family="'Liberation Sans', sans-serif" font-size="8.1" font-weight="bold" text-anchor="end" textLength="16.5" lengthAdjust="spacingAndGlyphs" fill="#111">150</text><text x="57.6" y="356.6" font-family="'Liberation Sans', sans-serif" font-size="8.1" font-weight="bold" text-anchor="end" textLength="16.5" lengthAdjust="spacingAndGlyphs" fill="#111">100</text><text x="57.6" y="375.3" font-family="'Liberation Sans', sans-serif" font-size="8.1" font-weight="bold" text-anchor="end" textLength="11.0" lengthAdjust="spacingAndGlyphs" fill="#111">50</text><text x="57.6" y="394.0" font-family="'Liberation Sans', sans-serif" font-size="8.1" font-weight="bold" text-anchor="end" textLength="5.5" lengthAdjust="spacingAndGlyphs" fill="#111">0</text><text x="48.6" y="429.4" font-family="'Liberation Sans', sans-serif" font-size="8.0" font-weight="bold" textLength="9.6" lengthAdjust="spacingAndGlyphs" fill="#111">10</text><text x="58.6" y="427.0" font-family="'Liberation Sans', sans-serif" font-size="4.5" fill="#111">3</text><text x="48.6" y="456.2" font-family="'Liberation Sans', sans-serif" font-size="8.0" font-weight="bold" textLength="9.6" lengthAdjust="spacingAndGlyphs" fill="#111">10</text><text x="58.6" y="453.8" font-family="'Liberation Sans', sans-serif" font-size="4.5" fill="#111">2</text><text x="48.6" y="483.1" font-family="'Liberation Sans', sans-serif" font-size="8.0" font-weight="bold" textLength="9.6" lengthAdjust="spacingAndGlyphs" fill="#111">10</text><text x="58.6" y="480.7" font-family="'Liberation Sans', sans-serif" font-size="4.5" fill="#111">1</text><text x="48.6" y="509.2" font-family="'Liberation Sans', sans-serif" font-size="8.0" font-weight="bold" textLength="9.6" lengthAdjust="spacingAndGlyphs" fill="#111">10</text><text x="58.6" y="506.8" font-family="'Liberation Sans', sans-serif" font-size="4.5" fill="#111">0</text><text x="65.3" y="515.1" font-family="'Liberation Sans', sans-serif" font-size="8.5" font-weight="bold" textLength="5.0" lengthAdjust="spacingAndGlyphs" fill="#111">0</text><text x="77.0" y="515.1" font-family="'Liberation Sans', sans-serif" font-size="8.5" font-weight="bold" textLength="10.8" lengthAdjust="spacingAndGlyphs" fill="#111">50</text><text x="90.8" y="515.1" font-family="'Liberation Sans', sans-serif" font-size="8.5" font-weight="bold" textLength="34.0" lengthAdjust="spacingAndGlyphs" fill="#111">100150</text><text x="128.9" y="515.1" font-family="'Liberation Sans', sans-serif" font-size="8.5" font-weight="bold" textLength="34.0" lengthAdjust="spacingAndGlyphs" fill="#111">200250</text><text x="182.4" y="515.1" font-family="'Liberation Sans', sans-serif" font-size="8.5" font-weight="bold" textLength="5.0" lengthAdjust="spacingAndGlyphs" fill="#111">0</text><text x="194.6" y="515.1" font-family="'Liberation Sans', sans-serif" font-size="8.5" font-weight="bold" textLength="10.8" lengthAdjust="spacingAndGlyphs" fill="#111">50</text><text x="209.6" y="515.1" font-family="'Liberation Sans', sans-serif" font-size="8.5" font-weight="bold" textLength="34.0" lengthAdjust="spacingAndGlyphs" fill="#111">100150</text><text x="247.0" y="515.1" font-family="'Liberation Sans', sans-serif" font-size="8.5" font-weight="bold" textLength="34.0" lengthAdjust="spacingAndGlyphs" fill="#111">200250</text><text x="304.2" y="515.1" font-family="'Liberation Sans', sans-serif" font-size="8.5" font-weight="bold" textLength="5.0" lengthAdjust="spacingAndGlyphs" fill="#111">0</text><text x="316.2" y="515.1" font-family="'Liberation Sans', sans-serif" font-size="8.5" font-weight="bold" textLength="10.8" lengthAdjust="spacingAndGlyphs" fill="#111">50</text><text x="330.8" y="515.1" font-family="'Liberation Sans', sans-serif" font-size="8.5" font-weight="bold" textLength="34.0" lengthAdjust="spacingAndGlyphs" fill="#111">100150</text><text x="368.4" y="515.1" font-family="'Liberation Sans', sans-serif" font-size="8.5" font-weight="bold" textLength="34.0" lengthAdjust="spacingAndGlyphs" fill="#111">200250</text><text x="420.3" y="515.1" font-family="'Liberation Sans', sans-serif" font-size="8.5" font-weight="bold" textLength="5.0" lengthAdjust="spacingAndGlyphs" fill="#111">0</text><text x="431.6" y="515.1" font-family="'Liberation Sans', sans-serif" font-size="8.5" font-weight="bold" textLength="10.8" lengthAdjust="spacingAndGlyphs" fill="#111">50</text><text x="446.9" y="515.1" font-family="'Liberation Sans', sans-serif" font-size="8.5" font-weight="bold" textLength="34.0" lengthAdjust="spacingAndGlyphs" fill="#111">100150</text><text x="484.3" y="515.1" font-family="'Liberation Sans', sans-serif" font-size="8.5" font-weight="bold" textLength="34.0" lengthAdjust="spacingAndGlyphs" fill="#111">200250</text></svg>
</body></html>
